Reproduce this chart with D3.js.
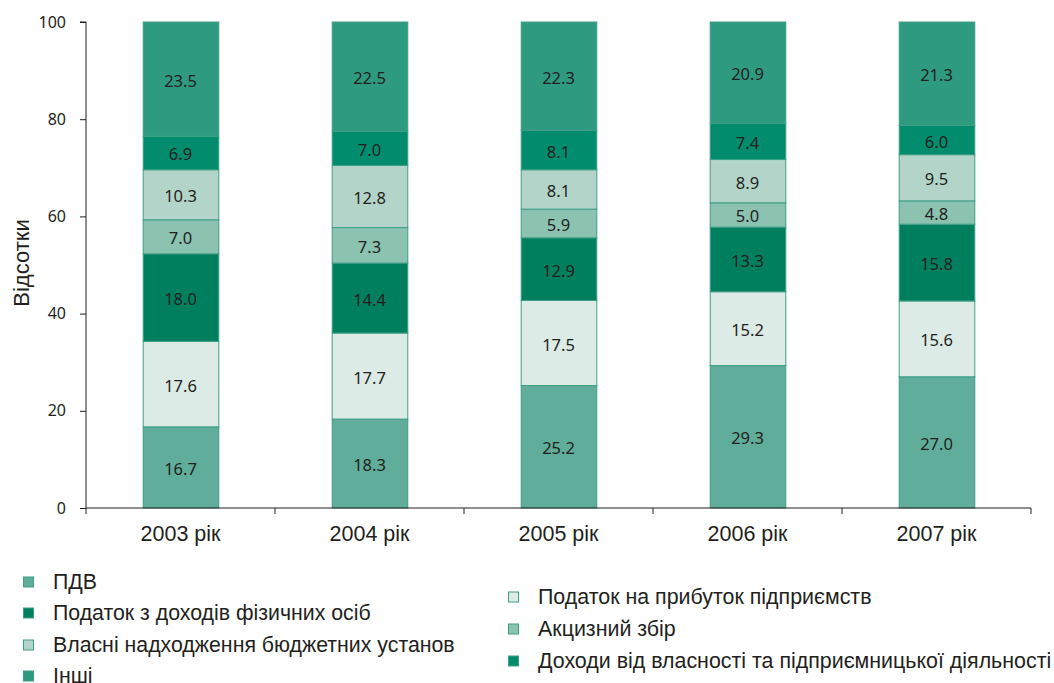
<!DOCTYPE html>
<html><head><meta charset="utf-8">
<script src="https://cdn.jsdelivr.net/npm/d3@7/dist/d3.min.js"></script>
<style>body{margin:0;background:#fff}svg{display:block}</style>
</head><body>
<svg id="c" width="1054" height="683"></svg>
<script>
const years = ["2003 рік","2004 рік","2005 рік","2006 рік","2007 рік"];
const seriesNames = ["ПДВ","Податок на прибуток підприємств","Податок з доходів фізичних осіб","Акцизний збір","Власні надходження бюджетних установ","Доходи від власності та підприємницької діяльності","Інші"];
const vat      = [16.7,18.3,25.2,29.3,27.0];
const profit   = [17.6,17.7,17.5,15.2,15.6];
const personal = [18.0,14.4,12.9,13.3,15.8];
const excise   = [7.0,7.3,5.9,5.0,4.8];
const own      = [10.3,12.8,8.1,8.9,9.5];
const property = [6.9,7.0,8.1,7.4,6.0];
const other    = [23.5,22.5,22.3,20.9,21.3];
const yTicks = [0,20,40,60,80,100];
const colors = ["#5fad9a","#dcebe5","#007f5f","#8cc2b0","#b3d5c9","#008c6d","#2e9a80"];
const seriesValues = [vat,profit,personal,excise,own,property,other];

const svg = d3.select("#c");
const x = d3.scaleBand().domain(years).range([86,1031]).paddingInner(0.6).paddingOuter(0.3);
const y = d3.scaleLinear().domain([0,100]).range([508,22]);

const rows = years.map((yr,i)=>{const o={year:yr}; seriesNames.forEach((s,j)=>o[s]=seriesValues[j][i]); return o;});
const stack = d3.stack().keys(seriesNames)(rows);

const g = svg.append("g");
stack.forEach((layer,j)=>{
  layer.forEach(d=>{
    const x0 = x(d.data.year), w = x.bandwidth();
    g.append("rect").attr("x",x0+0.5).attr("y",y(d[1])).attr("width",w).attr("height",y(d[0])-y(d[1]))
      .attr("fill",colors[j]).attr("stroke","#3e9f85").attr("stroke-width",1);
  });
});
stack.forEach((layer,j)=>{
  layer.forEach(d=>{
    g.append("text").attr("x",x(d.data.year)+x.bandwidth()/2).attr("y",(y(d[0])+y(d[1]))/2+1)
      .attr("text-anchor","middle").attr("dominant-baseline","central")
      .attr("font-family","Noto Sans, sans-serif").attr("font-size",16.5).attr("fill","#231f20")
      .text((d[1]-d[0]).toFixed(1));
  });
});

// y axis
const ya = svg.append("g").attr("transform","translate(86,0)")
  .call(d3.axisLeft(y).tickValues(yTicks).tickSize(6).tickPadding(14));
ya.selectAll("text").attr("font-family","Noto Sans, sans-serif").attr("font-size",16).attr("fill","#231f20");
ya.selectAll("line,path").attr("stroke","#231f20");
ya.select(".domain").attr("d","M0,508V22H-6");

// x axis
const xa = svg.append("g").attr("transform","translate(0,508)");
xa.append("line").attr("x1",86).attr("x2",1031).attr("y1",0).attr("y2",0).attr("stroke","#231f20");
const step = x.step();
d3.range(years.length+1).forEach(i=>{
  const xx = 86 + i*step;
  xa.append("line").attr("x1",xx).attr("x2",xx).attr("y1",0).attr("y2",6).attr("stroke","#231f20");
});
years.forEach(yr=>{
  xa.append("text").attr("x",x(yr)+x.bandwidth()/2).attr("y",33).attr("text-anchor","middle")
    .attr("font-family","Liberation Sans, Arial, sans-serif").attr("font-size",21.5).attr("fill","#231f20").text(yr);
});

svg.append("text").attr("transform","translate(29,263) rotate(-90)").attr("text-anchor","middle")
  .attr("font-family","Liberation Sans, Arial, sans-serif").attr("font-size",22).attr("fill","#231f20").text("Відсотки");

// legend
const legLeft = [[0,582],[2,613],[4,645],[6,676]];
const legRight = [[1,597],[3,629],[5,661]];
function leg(items, sx, tx, fs){
  items.forEach(([j,yy])=>{
    svg.append("rect").attr("x",sx).attr("y",yy-5).attr("width",10).attr("height",10)
      .attr("fill",colors[j]).attr("stroke","#3e9f85").attr("stroke-width",1);
    svg.append("text").attr("x",tx).attr("y",yy).attr("dominant-baseline","central")
      .attr("font-family","Liberation Sans, Arial, sans-serif").attr("font-size",fs).attr("fill","#231f20").text(seriesNames[j]);
  });
}
leg(legLeft,23.5,53,21.3);
leg(legRight,508.5,538,21.4);
</script>
</body></html>
